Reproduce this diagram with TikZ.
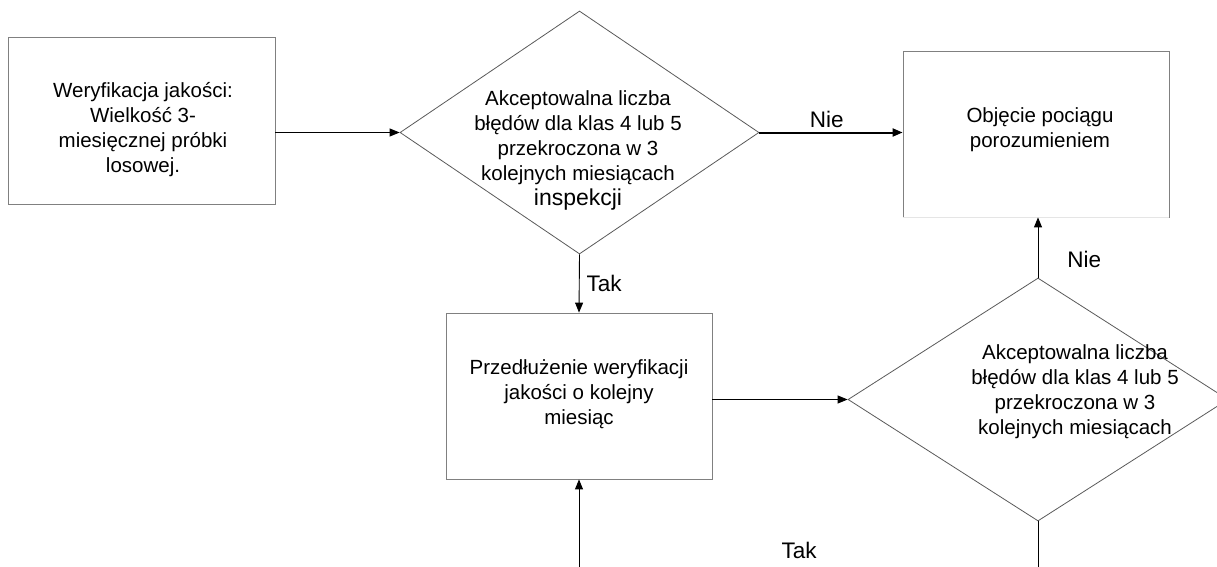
\documentclass[tikz,border=0pt]{standalone}
\usepackage{fontspec}
\setmainfont{Liberation Sans}
\usetikzlibrary{arrows.meta,shapes.geometric,positioning}

\begin{document}
\begin{tikzpicture}[x=1pt, y=-1pt,
  box/.style={draw=gray, line width=0.8pt, inner sep=0pt, minimum width=266pt, minimum height=166pt},
  decision/.style={diamond, draw=gray!70!black, line width=0.8pt, inner sep=0pt, minimum width=359pt, minimum height=243pt},
  txt/.style={align=center, font=\fontsize{20.5}{25}\selectfont},
  lbl/.style={inner sep=0pt, font=\fontsize{22.5}{25}\selectfont},
  arr/.style={-{Triangle[length=10pt,width=8pt]}, line width=0.9pt}]
\useasboundingbox (0,0) rectangle (1217,567);
\clip (0,0) rectangle (1217,567);

\node[box, minimum width=267pt, minimum height=167pt] (verif) at (141.5,120.5) {};
\node[txt] (verif-t) at (143,130) {Weryfikacja jakości:\\Wielkość 3-\\miesięcznej próbki\\losowej.};

\node[decision] (dec1) at (579.5,132.5) {};
\node[txt] (dec1-t) at (578,150) {Akceptowalna liczba\\błędów dla klas 4 lub 5\\przekroczona w 3\\kolejnych miesiącach\\{\fontsize{23}{25}\selectfont inspekcji}};

\node[box] (obj) at (1036,134) {};
\draw[gray!20, line width=0.8pt] (obj.south west) -- (obj.south east);
\node[txt] (obj-t) at (1040,130) {Objęcie pociągu\\porozumieniem};

\node[box] (ext) at (579,396) {};
\node[txt] (ext-t) at (579,394) {Przedłużenie weryfikacji\\jakości o kolejny\\miesiąc};

\node[decision, minimum width=380pt] (dec2) at (1038,399.5) {};
\node[txt] (dec2-t) at (1075,392) {Akceptowalna liczba\\błędów dla klas 4 lub 5\\przekroczona w 3\\kolejnych miesiącach};

\coordinate (loop) at (579,567);
\coordinate (exit) at (1038,567);

\draw[arr] (verif.east |- dec1.west) -- (dec1.west);
\draw[arr, line width=2pt] (dec1.east) -- node[lbl, above=4pt, pos=0.47] (nie1) {Nie} (dec1.east -| obj.west);
\draw[arr] (dec1.south) -- node[lbl, right=7pt] (tak1) {Tak} (ext.north);
\draw[arr] (dec2.west -| ext.east) -- (dec2.west);
\draw[arr] (dec2.north) -- node[lbl, right=29pt, pos=0.3] (nie2) {Nie} (dec2.north |- obj.south);
\draw[arr] (loop) -- (ext.south);
\draw[line width=0.9pt] (dec2.south) -- (exit);
\node[lbl] (tak2) at (799,550) {Tak};
\end{tikzpicture}
\end{document}
